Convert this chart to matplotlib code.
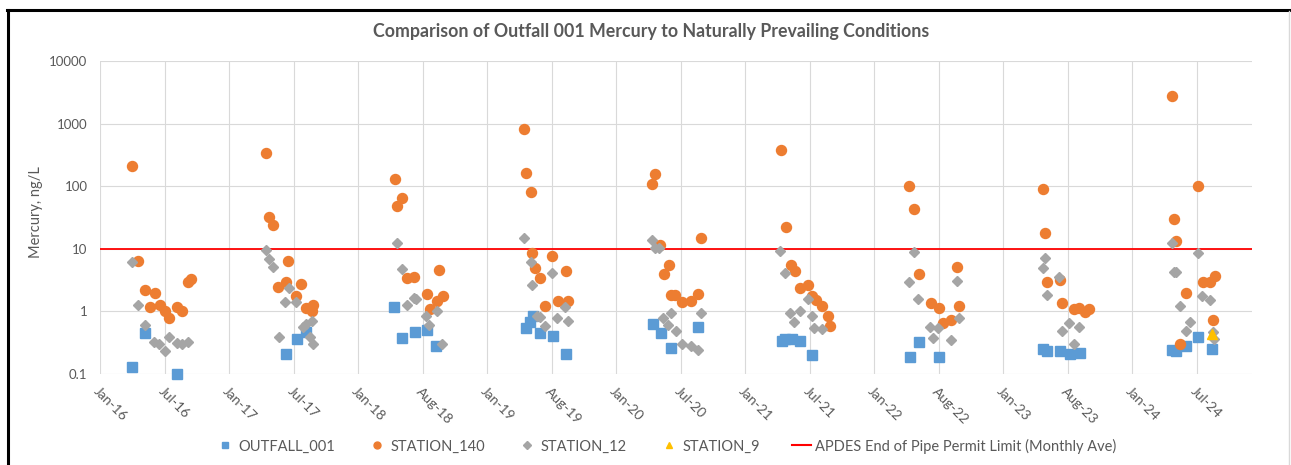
import matplotlib
matplotlib.use('Agg')
import matplotlib.pyplot as plt
import matplotlib.dates as mdates
from matplotlib.lines import Line2D
from matplotlib.ticker import FixedLocator, NullLocator
import datetime as dt

plt.rcParams['font.family'] = ['Lato', 'DejaVu Sans']

# ---------------- data ----------------
outfall_dates = [
    "2016-05-02", "2016-06-06", "2016-09-05",
    "2017-07-10", "2017-08-11", "2017-09-06",
    "2018-05-13", "2018-06-04", "2018-07-10", "2018-08-15", "2018-09-09",
    "2019-05-20", "2019-06-01", "2019-06-10", "2019-07-01", "2019-08-05", "2019-09-11",
    "2020-05-15", "2020-06-05", "2020-07-06", "2020-09-18",
    "2021-05-16", "2021-05-23", "2021-06-12", "2021-07-06", "2021-08-09",
    "2022-05-12", "2022-06-06", "2022-08-03",
    "2023-05-24", "2023-06-04", "2023-07-10", "2023-08-08", "2023-09-05",
    "2024-05-23", "2024-06-04", "2024-07-02", "2024-08-05", "2024-09-12",
]
outfall_vals = [
    0.13, 0.46, 0.10,
    0.21, 0.36, 0.47,
    1.19, 0.38, 0.47, 0.50, 0.28,
    0.55, 0.68, 0.84, 0.45, 0.41, 0.21,
    0.63, 0.46, 0.26, 0.56,
    0.34, 0.36, 0.36, 0.34, 0.20,
    0.19, 0.32, 0.19,
    0.25, 0.23, 0.23, 0.21, 0.22,
    0.24, 0.23, 0.28, 0.39, 0.25,
]

station140_dates = [
    "2016-05-01", "2016-05-18", "2016-06-06", "2016-06-20", "2016-07-04", "2016-07-18",
    "2016-08-02", "2016-08-14", "2016-09-05", "2016-09-18", "2016-10-07", "2016-10-16",
    "2017-05-15", "2017-05-23", "2017-06-04", "2017-06-18", "2017-07-10", "2017-07-17",
    "2017-08-09", "2017-08-21", "2017-09-05", "2017-09-21", "2017-09-24",
    "2018-05-15", "2018-05-21", "2018-06-04", "2018-06-19", "2018-07-08", "2018-08-15",
    "2018-08-22", "2018-09-11", "2018-09-17", "2018-09-27",
    "2019-05-15", "2019-05-20", "2019-06-03", "2019-06-08", "2019-06-17", "2019-07-01",
    "2019-07-13", "2019-08-04", "2019-08-20", "2019-09-10", "2019-09-17",
    "2020-05-12", "2020-05-20", "2020-06-03", "2020-06-14", "2020-06-28", "2020-07-06",
    "2020-07-17", "2020-08-05", "2020-08-29", "2020-09-18", "2020-09-27",
    "2021-05-11", "2021-05-25", "2021-06-08", "2021-06-20", "2021-07-06", "2021-07-28",
    "2021-08-09", "2021-08-18", "2021-09-05", "2021-09-21", "2021-09-27",
    "2022-05-10", "2022-05-23", "2022-06-06", "2022-07-12", "2022-08-03", "2022-08-15",
    "2022-09-04", "2022-09-21", "2022-09-27",
    "2023-05-24", "2023-05-29", "2023-06-04", "2023-07-10", "2023-07-18", "2023-08-19",
    "2023-09-02", "2023-09-19", "2023-09-30",
    "2024-05-23", "2024-05-28", "2024-06-03", "2024-06-16", "2024-07-01", "2024-08-05",
    "2024-08-19", "2024-09-07", "2024-09-16", "2024-09-23",
]
station140_vals = [
    210, 6.5, 2.2, 1.19, 1.95, 1.27,
    1.0, 0.78, 1.19, 1.0, 2.92, 3.3,
    336, 31.8, 24, 2.43, 2.9, 6.5,
    1.78, 2.71, 1.12, 1.0, 1.27,
    130, 48.3, 65.7, 3.46, 3.56, 1.87,
    1.09, 1.48, 4.6, 1.78,
    811, 161, 80, 8.7, 5.0, 3.4,
    1.23, 7.8, 1.48, 4.47, 1.48,
    107, 157, 11.5, 3.9, 5.5, 1.83,
    1.83, 1.40, 1.48, 1.87, 14.7,
    379, 22.5, 5.5, 4.4, 2.34, 2.64,
    1.78, 1.50, 1.23, 0.85, 0.58,
    102, 42.8, 3.95, 1.35, 1.15, 0.65,
    0.74, 5.2, 1.23,
    89, 17.7, 3.0, 3.18, 1.35, 1.09,
    1.15, 0.97, 1.09,
    2790, 29.6, 13.5, 0.30, 2.0, 100,
    3.0, 3.0, 0.73, 3.7,
]

station12_dates = [
    "2016-05-01", "2016-05-18", "2016-06-05", "2016-07-03", "2016-07-17", "2016-08-01",
    "2016-08-14", "2016-09-05", "2016-09-18", "2016-10-06",
    "2017-05-14", "2017-05-23", "2017-06-04", "2017-06-20", "2017-07-09", "2017-07-19",
    "2017-08-09", "2017-08-28", "2017-09-06", "2017-09-16", "2017-09-21", "2017-09-25",
    "2018-05-20", "2018-06-04", "2018-06-18", "2018-07-08", "2018-07-15", "2018-08-12",
    "2018-08-20", "2018-09-11", "2018-09-24",
    "2019-05-15", "2019-06-03", "2019-06-07", "2019-06-20", "2019-07-01", "2019-07-13",
    "2019-08-03", "2019-08-18", "2019-09-08", "2019-09-17",
    "2020-05-11", "2020-05-20", "2020-06-01", "2020-06-12", "2020-06-26", "2020-07-06",
    "2020-07-20", "2020-08-05", "2020-08-29", "2020-09-18", "2020-09-27",
    "2021-05-09", "2021-05-23", "2021-06-07", "2021-06-18", "2021-07-06", "2021-07-28",
    "2021-08-09", "2021-08-14", "2021-09-05",
    "2022-05-10", "2022-05-23", "2022-06-04", "2022-07-09", "2022-07-17", "2022-07-31",
    "2022-09-04", "2022-09-21", "2022-09-27",
    "2023-05-24", "2023-05-29", "2023-06-03", "2023-07-08", "2023-07-17", "2023-08-06",
    "2023-08-19", "2023-09-03",
    "2024-05-22", "2024-05-28", "2024-06-03", "2024-06-16", "2024-07-01", "2024-07-14",
    "2024-08-05", "2024-08-17", "2024-09-08", "2024-09-16", "2024-09-18",
]
station12_vals = [
    6.1, 1.27, 0.61, 0.32, 0.30, 0.23,
    0.39, 0.31, 0.30, 0.33,
    9.56, 6.8, 5.2, 0.39, 1.43, 2.4,
    1.43, 0.57, 0.63, 0.39, 0.70, 0.30,
    12.2, 4.7, 1.27, 1.66, 1.57, 0.85,
    0.61, 1.0, 0.30,
    14.7, 6.1, 2.64, 0.85, 0.82, 0.58,
    4.15, 0.79, 1.19, 0.71,
    13.8, 10.2, 10.2, 0.79, 0.61, 0.95,
    0.48, 0.30, 0.28, 0.24, 0.93,
    9.3, 4.1, 0.95, 0.68, 1.0, 1.58,
    0.85, 0.55, 0.53,
    3.0, 9.0, 1.58, 0.56, 0.37, 0.54,
    0.35, 3.1, 0.79,
    4.9, 7.0, 1.83, 3.6, 0.48, 0.66,
    0.30, 0.56,
    12.2, 4.2, 4.2, 1.23, 0.48, 0.68,
    8.5, 1.77, 1.5, 0.47, 0.36,
]

station9_dates = ["2024-09-14"]
station9_vals = [0.435]

permit_limit = 10

x_tick_labels = ["Jan-16", "Jul-16", "Jan-17", "Jul-17", "Jan-18", "Aug-18",
                 "Jan-19", "Aug-19", "Jan-20", "Jul-20", "Jan-21", "Jul-21",
                 "Jan-22", "Aug-22", "Jan-23", "Aug-23", "Jan-24", "Jul-24"]
y_ticks = [0.1, 1, 10, 100, 1000, 10000]
y_tick_labels = ["0.1", "1", "10", "100", "1000", "10000"]

title = "Comparison of Outfall 001 Mercury to Naturally Prevailing Conditions"
y_label = "Mercury, ng/L"
legend_labels = ["OUTFALL_001", "STATION_140", "STATION_12", "STATION_9",
                 "APDES End of Pipe Permit Limit (Monthly Ave)"]

# ---------------- style ----------------
C_BLUE = "#5B9BD5"
C_ORANGE = "#ED7D31"
C_GRAY = "#A5A5A5"
C_YELLOW = "#FFC000"
C_RED = "#FF0000"
C_TEXT = "#595959"
C_GRID = "#D9D9D9"

W, H = 1291, 465
fig = plt.figure(figsize=(W / 100, H / 100), dpi=100)
ax = fig.add_axes([100 / W, 91 / H, 1152 / W, 313 / H])

x0 = mdates.date2num(dt.datetime(2016, 1, 31))
unit = 182.62

ax.set_yscale('log')
ax.set_ylim(0.1, 10000)
ax.set_xlim(x0, x0 + 17.86 * unit)

ax.axhline(permit_limit, color=C_RED, lw=1.3, zorder=2)

ax.plot(mdates.datestr2num(outfall_dates), outfall_vals, ls='none', marker='s',
        ms=6.5, color=C_BLUE, mec=C_BLUE, zorder=3, clip_on=False)
ax.plot(mdates.datestr2num(station140_dates), station140_vals, ls='none', marker='o',
        ms=7.2, color=C_ORANGE, mec=C_ORANGE, zorder=4, clip_on=False)
ax.plot(mdates.datestr2num(station12_dates), station12_vals, ls='none', marker='D',
        ms=5.2, color=C_GRAY, mec=C_GRAY, zorder=5, clip_on=False)
ax.plot(mdates.datestr2num(station9_dates), station9_vals, ls='none', marker='^',
        ms=6.5, color=C_YELLOW, mec=C_YELLOW, zorder=6, clip_on=False)

ax.xaxis.set_major_locator(FixedLocator([x0 + k * unit for k in range(len(x_tick_labels))]))
ax.set_xticklabels(x_tick_labels, rotation=-45, ha='left', va='top',
                   rotation_mode='anchor', color=C_TEXT, fontsize=10)
ax.yaxis.set_major_locator(FixedLocator(y_ticks))
ax.yaxis.set_minor_locator(NullLocator())
ax.set_yticklabels(y_tick_labels, color=C_TEXT, fontsize=9.5)
ax.tick_params(axis='both', length=0)
ax.tick_params(axis='x', pad=8)
ax.tick_params(axis='y', pad=9)

ax.grid(True, color=C_GRID, lw=0.8)
ax.set_axisbelow(True)
for s in ax.spines.values():
    s.set_visible(False)

fig.text(651 / W, 1 - 32 / H, title, ha='center', va='center', fontsize=12.8,
         color=C_TEXT, fontweight='bold')
fig.text(36 / W, 1 - 212 / H, y_label, ha='center', va='center', rotation=90,
         fontsize=10.5, color=C_TEXT)

handles = [
    Line2D([], [], ls='none', marker='s', ms=5, color=C_BLUE),
    Line2D([], [], ls='none', marker='o', ms=5, color=C_ORANGE),
    Line2D([], [], ls='none', marker='D', ms=4, color=C_GRAY),
    Line2D([], [], ls='none', marker='^', ms=5, color=C_YELLOW),
    Line2D([], [], color=C_RED, lw=1.5),
]
leg = fig.legend(handles, legend_labels, loc='center', bbox_to_anchor=(666 / W, 19 / H),
                 ncol=5, frameon=False, fontsize=10.5, handlelength=1.3,
                 handletextpad=0.3, columnspacing=2.2, labelcolor=C_TEXT)

# outer frame (screenshot border)
fig.add_artist(Line2D([7 / W, 1], [1 - 10 / H, 1 - 10 / H], color='black', lw=2.2,
                      transform=fig.transFigure))
fig.add_artist(Line2D([8 / W, 8 / W], [0, 1 - 10 / H], color='black', lw=2.2,
                      transform=fig.transFigure))
fig.add_artist(Line2D([1289 / W, 1289 / W], [0, 1 - 11 / H], color=C_GRID, lw=1.0,
                      transform=fig.transFigure))

fig.savefig("out.png", dpi=100)
